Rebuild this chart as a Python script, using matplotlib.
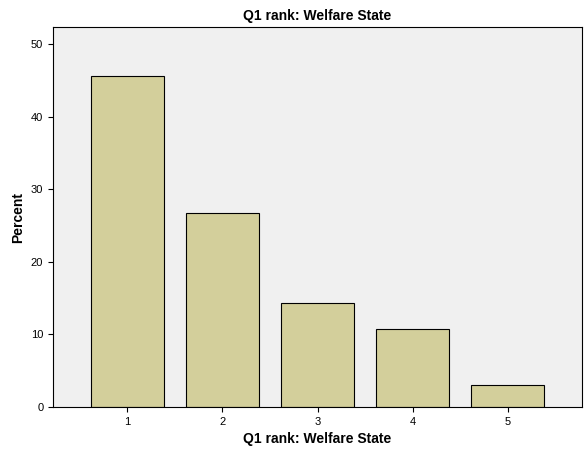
import matplotlib
matplotlib.use('Agg')
import matplotlib.pyplot as plt

ranks = [1, 2, 3, 4, 5]
rank_labels = ['1', '2', '3', '4', '5']
percent = [45.6, 26.7, 14.3, 10.7, 3.0]

plt.rcParams['font.family'] = ['Liberation Sans', 'DejaVu Sans']

fig = plt.figure(figsize=(5.87, 4.5), dpi=100)
ax = fig.add_axes([53/587, 1-407/450, 529/587, 380/450])
ax.set_facecolor('#f0f0f0')
ax.bar(ranks, percent, width=0.77, color='#d3cf9b', edgecolor='black', linewidth=0.8)
ax.set_xlim(0.22, 5.78)
ax.set_ylim(0, 52.4)
ax.set_xticks(ranks)
ax.set_xticklabels(rank_labels, fontsize=8)
ax.set_yticks([0, 10, 20, 30, 40, 50])
ax.tick_params(axis='y', labelsize=8)
ax.set_xlabel('Q1 rank: Welfare State', fontsize=10, fontweight='bold')
ax.set_ylabel('Percent', fontsize=10, fontweight='bold')
ax.set_title('Q1 rank: Welfare State', fontsize=10, fontweight='bold', pad=5)
for s in ax.spines.values():
    s.set_linewidth(0.8)
fig.savefig('out.png', dpi=100)
